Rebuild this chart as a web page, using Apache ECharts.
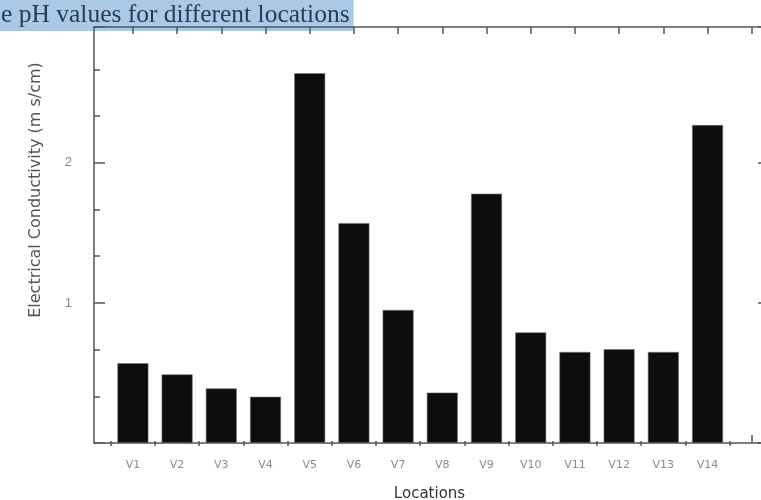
<!DOCTYPE html>
<html>
<head>
<meta charset="utf-8">
<script src="https://cdn.jsdelivr.net/npm/echarts@6/dist/echarts.min.js"></script>
<style>
  html, body { margin: 0; padding: 0; background: #fff; }
  #chart { width: 761px; height: 500px; }
</style>
</head>
<body>
<div id="chart"></div>
<script>
// data
const locations = ['V1', 'V2', 'V3', 'V4', 'V5', 'V6', 'V7', 'V8', 'V9', 'V10', 'V11', 'V12', 'V13', 'V14']
const conductivity = [0.57, 0.49, 0.39, 0.33, 2.64, 1.57, 0.95, 0.36, 1.78, 0.79, 0.65, 0.67, 0.65, 2.27]
const yTickLabels = ['1', '2']

const xMin = 0.12
const xMax = 15.3
const majorX = []
const halfX = []
for (let i = 1; i <= 15; i++) majorX.push(i)
for (let i = 0; i <= 14; i++) halfX.push(i + 0.5)
const labelX = locations.map((d, i) => i + 1)

const lineCol = '#555'

const chart = echarts.init(document.getElementById('chart'))

function xAxisBase(pos) {
  return {
    type: 'value',
    position: pos,
    min: xMin,
    max: xMax,
    splitLine: { show: false },
    axisLine: { show: true, onZero: false, lineStyle: { color: lineCol, width: 1.5 } },
    axisLabel: { show: false },
    z: 3
  }
}

const option = {
  animation: false,
  title: {
    text: 'e pH values for different locations',
    left: 0,
    top: 0,
    padding: [2, 4, 3, 1],
    backgroundColor: '#a9c9e6',
    z: 0,
    textStyle: {
      fontFamily: 'Liberation Serif',
      fontSize: 25.5,
      fontWeight: 'normal',
      color: '#2b3a57'
    }
  },
  grid: { left: 94, right: -4, top: 27, bottom: 57, outerBoundsMode: 'none', containLabel: false },
  xAxis: [
    Object.assign(xAxisBase('bottom'), {
      z: 1,
      axisTick: { show: true, inside: true, length: 8, customValues: majorX, lineStyle: { color: lineCol, width: 1.5 } },
      axisLabel: {
        show: true,
        customValues: labelX,
        formatter: (v) => locations[Math.round(v) - 1] || '',
        color: '#8a8a8a',
        fontSize: 11,
        fontFamily: 'DejaVu Sans',
        margin: 17
      },
      name: 'Locations',
      nameLocation: 'middle',
      nameGap: 44,
      nameTextStyle: { color: '#333', fontSize: 15, fontFamily: 'DejaVu Sans' }
    }),
    Object.assign(xAxisBase('top'), {
      axisTick: { show: true, inside: true, length: 7, customValues: majorX, lineStyle: { color: lineCol, width: 1.5 } }
    }),
    Object.assign(xAxisBase('bottom'), {
      axisLine: { show: false },
      axisTick: { show: true, inside: true, length: 2, customValues: halfX, lineStyle: { color: lineCol, width: 1.5 } }
    }),
    Object.assign(xAxisBase('top'), {
      axisLine: { show: false },
      axisTick: { show: true, inside: true, length: 3, customValues: halfX, lineStyle: { color: lineCol, width: 1.5 } }
    })
  ],
  yAxis: [
    {
      type: 'value',
      position: 'left',
      min: 0,
      max: 2.97,
      interval: 1,
      splitLine: { show: false },
      axisLine: { show: true, lineStyle: { color: lineCol, width: 1.5 } },
      axisTick: { show: true, inside: true, length: 11, lineStyle: { color: lineCol, width: 1.5 } },
      minorTick: { show: true, splitNumber: 3, length: 6, lineStyle: { color: lineCol, width: 1.5 } },
      axisLabel: {
        color: '#8a8a8a',
        fontSize: 13,
        fontFamily: 'Liberation Sans',
        margin: 22,
        formatter: (v) => yTickLabels.indexOf(String(v)) >= 0 ? String(v) : ''
      },
      z: 3
    },
    {
      type: 'value',
      position: 'right',
      min: 0,
      max: 2.97,
      interval: 1,
      splitLine: { show: false },
      axisLine: { show: true, lineStyle: { color: lineCol, width: 1.5 } },
      axisTick: { show: true, inside: true, length: 7, lineStyle: { color: lineCol, width: 1.5 } },
      minorTick: { show: true, splitNumber: 3, length: 4, lineStyle: { color: lineCol, width: 1.5 } },
      axisLabel: { show: false },
      z: 3
    }
  ],
  graphic: [
    {
      type: 'text',
      x: 36,
      y: 190,
      rotation: Math.PI / 2,
      z: 10,
      style: {
        text: 'Electrical Conductivity (m s/cm)',
        fill: '#555',
        fontSize: 16,
        fontFamily: 'DejaVu Sans',
        align: 'center',
        verticalAlign: 'middle'
      }
    }
  ],
  series: [
    {
      type: 'bar',
      xAxisIndex: 0,
      yAxisIndex: 0,
      barWidth: 31,
      data: conductivity.map((v, i) => [i + 1, v]),
      itemStyle: { color: '#0d0d0d', borderColor: '#777', borderWidth: 0.6 },
      z: 2
    }
  ]
}

chart.setOption(option)
</script>
</body>
</html>
